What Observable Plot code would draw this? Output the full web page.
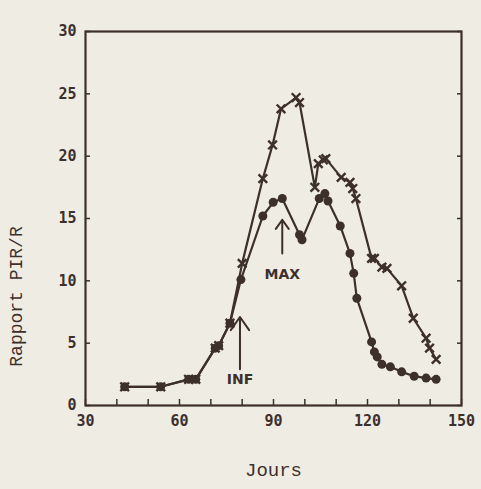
<!DOCTYPE html>
<html><head><meta charset="utf-8">
<script src="https://cdn.jsdelivr.net/npm/d3@7"></script>
<script src="https://cdn.jsdelivr.net/npm/@observablehq/plot@0.6"></script>
<style>
html,body{margin:0;padding:0;background:#efece3;}
#chart{position:relative;width:481px;height:489px;}
</style></head>
<body><div id="chart"></div>
<script>
// Shared early part + circle series (lower)
const daysLow = [42.5,54,62.9,65.2,71.4,72.5,76.1,79.6,86.6,89.9,92.8,98.3,99.1,104.6,106.4,107.4,111.3,114.4,115.6,116.6,121.3,122.2,123.1,124.6,127.3,130.9,134.9,138.7,141.9];
const valsLow = [1.5,1.5,2.1,2.1,4.6,4.8,6.6,10.1,15.2,16.3,16.6,13.7,13.3,16.6,17.0,16.4,14.4,12.2,10.6,8.6,5.1,4.3,3.9,3.3,3.1,2.7,2.35,2.2,2.1];
// Cross series (upper)
const daysHigh = [42.5,54,62.9,65.2,71.4,72.5,76.1,80.0,86.6,89.7,92.4,97.2,98.3,103.2,104.3,105.9,106.7,111.6,114.4,115.3,116.3,121.3,122.2,124.6,126.2,130.9,134.6,138.7,139.8,141.9];
const valsHigh = [1.5,1.5,2.1,2.1,4.6,4.8,6.6,11.4,18.2,20.9,23.8,24.7,24.3,17.5,19.4,19.7,19.8,18.3,17.9,17.4,16.6,11.8,11.8,11.1,11.0,9.6,7.0,5.4,4.6,3.7];
const xTickLabels = [30,60,90,120,150];
const xMinorTicks = [40,50,70,80,100,110,130,140];
const yTickLabels = [0,5,10,15,20,25,30];
const annLabels = ["MAX","INF"];
const annDay = [92.8,79.3];
const annTop = [14.9,7.1];
const annBottom = [12.2,2.9];
const annTextY = [10.5,2.05];

const ink = "#3d302b";
const low = daysLow.map((d,i)=>({day:d,v:valsLow[i]}));
const high = daysHigh.map((d,i)=>({day:d,v:valsHigh[i]}));
const ann = annLabels.map((t,i)=>({t,day:annDay[i],y1:annBottom[i],y2:annTop[i],ty:annTextY[i]}));

const tickFont = "DejaVu Sans Mono, monospace";
const chart = Plot.plot({
  width:481, height:489,
  marginLeft:85, marginRight:20, marginTop:31, marginBottom:84,
  style:{background:"#efece3", color:ink, fontFamily:tickFont},
  x:{domain:[30,150]},
  y:{domain:[0,30]},
  marks:[
    Plot.frame({stroke:ink, strokeWidth:2.2}),
    Plot.axisX(xTickLabels,{tickSize:0, tickPadding:10, fontSize:15, fontWeight:"bold", label:null, fill:ink}),
    Plot.axisX(xMinorTicks.concat(xTickLabels),{tickSize:-6, text:null, stroke:ink, strokeWidth:1.5, label:null}),
    Plot.axisY(yTickLabels,{tickSize:0, tickPadding:9, fontSize:15, fontWeight:"bold", label:null, fill:ink}),
    Plot.axisY(yTickLabels,{tickSize:-5, text:null, stroke:ink, strokeWidth:1.5, label:null}),
    Plot.axisY(yTickLabels,{anchor:"right", tickSize:-5, text:null, stroke:ink, strokeWidth:1.5, label:null}),
    Plot.line(high,{x:"day",y:"v",stroke:ink,strokeWidth:2.2}),
    Plot.line(low,{x:"day",y:"v",stroke:ink,strokeWidth:2.2}),
    Plot.dot(high,{x:"day",y:"v",symbol:"times",r:4,stroke:ink,strokeWidth:2.4}),
    Plot.dot(low,{x:"day",y:"v",symbol:"circle",r:4.5,fill:ink,stroke:null}),
    Plot.arrow(ann,{x:"day",y1:"y1",y2:"y2",stroke:ink,strokeWidth:2,headLength:12,headAngle:70}),
    Plot.text(ann,{x:"day",y:"ty",text:"t",fontSize:14,fontWeight:"bold",fill:ink,fontFamily:"DejaVu Sans, sans-serif"}),
    Plot.text(["Jours"],{frameAnchor:"bottom",dy:70,text:d=>d,fontSize:19,fill:ink,fontFamily:"Liberation Mono, monospace"}),
    Plot.text(["Rapport PIR/R"],{frameAnchor:"left",textAnchor:"middle",dx:-69,dy:78,rotate:-90,text:d=>d,fontSize:18,fill:ink,fontFamily:"Liberation Mono, monospace"})
  ]
});
document.getElementById("chart").appendChild(chart);
</script></body></html>
